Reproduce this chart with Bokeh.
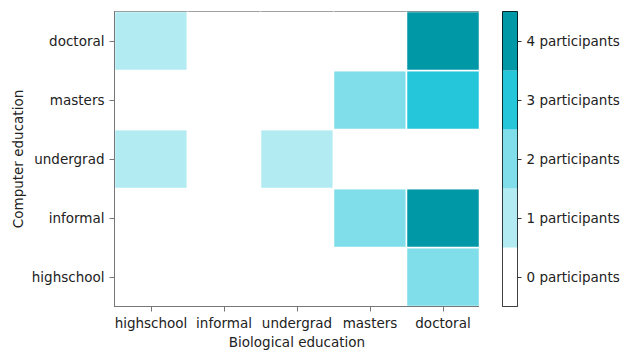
from bokeh.plotting import figure
from bokeh.models import ColumnDataSource, LinearColorMapper
from bokeh.layouts import row
from bokeh.embed import file_html
from bokeh.resources import INLINE

bio_levels = ["highschool", "informal", "undergrad", "masters", "doctoral"]
comp_levels = ["highschool", "informal", "undergrad", "masters", "doctoral"]

# counts[row = computer education][col = biological education]
counts_highschool = [0, 0, 0, 0, 2]
counts_informal = [0, 0, 0, 2, 4]
counts_undergrad = [1, 0, 1, 0, 0]
counts_masters = [0, 0, 0, 2, 3]
counts_doctoral = [1, 0, 0, 0, 4]

palette = ["#ffffff", "#b2ebf2", "#80deea", "#26c6da", "#0097a7"]
colorbar_values = [0, 1, 2, 3, 4]
colorbar_labels = ["0 participants", "1 participants", "2 participants", "3 participants", "4 participants"]

rows = {"highschool": counts_highschool, "informal": counts_informal,
        "undergrad": counts_undergrad, "masters": counts_masters,
        "doctoral": counts_doctoral}

xs, ys, vs = [], [], []
for comp in comp_levels:
    for bio, v in zip(bio_levels, rows[comp]):
        xs.append(bio)
        ys.append(comp)
        vs.append(v)

src = ColumnDataSource(dict(x=xs, y=ys, v=vs))
mapper = LinearColorMapper(palette=palette, low=-0.5, high=4.5)

FONT = "DejaVu Sans"
FS = "13.5px"
TXT = "#222222"

p = figure(x_range=bio_levels, y_range=comp_levels, output_backend="svg",
           toolbar_location=None, frame_width=365, frame_height=295,
           min_border_left=114, min_border_top=11, min_border_bottom=10,
           min_border_right=0)
p.rect(x="x", y="y", width=1, height=1, source=src,
       fill_color={"field": "v", "transform": mapper},
       line_color="white", line_width=1.5)

p.grid.visible = False
p.outline_line_color = "black"
p.outline_line_width = 1
for ax in (p.xaxis, p.yaxis):
    ax.axis_line_color = "#777777"
    ax.major_tick_line_color = "#777777"
    ax.major_tick_out = 5
    ax.major_tick_in = 0
    ax.major_label_text_font = FONT
    ax.major_label_text_font_size = FS
    ax.major_label_text_color = TXT
    ax.axis_label_text_font = FONT
    ax.axis_label_text_font_size = FS
    ax.axis_label_text_font_style = "normal"
    ax.axis_label_text_color = TXT
p.xaxis.axis_label = "Biological education"
p.yaxis.axis_label = "Computer education"
p.xaxis.major_label_standoff = 3
p.yaxis.major_label_standoff = 5
p.xaxis.axis_label_standoff = 0
p.yaxis.axis_label_standoff = 3

# colour bar as its own figure
cb_src = ColumnDataSource(dict(x=["bar"] * len(colorbar_values),
                               y=colorbar_labels,
                               v=colorbar_values))
cbf = figure(x_range=["bar"], y_range=colorbar_labels,
             output_backend="svg", toolbar_location=None,
             frame_width=15, frame_height=295,
             min_border_left=23, min_border_top=11, min_border_bottom=44,
             min_border_right=0, y_axis_location="right")
cbf.rect(x="x", y="y", width=1, height=1, source=cb_src,
         fill_color={"field": "v", "transform": mapper}, line_color=None)
cbf.grid.visible = False
cbf.xaxis.visible = False
cbf.outline_line_color = "black"
cbf.outline_line_width = 1
cbf.yaxis.axis_line_color = None
cbf.yaxis.major_tick_line_color = "#333333"
cbf.yaxis.major_tick_out = 4
cbf.yaxis.major_tick_in = 0
cbf.yaxis.major_label_text_font = FONT
cbf.yaxis.major_label_text_font_size = FS
cbf.yaxis.major_label_text_color = TXT
cbf.yaxis.major_label_standoff = 5

layout = row(p, cbf, spacing=0)
open("out.html", "w").write(file_html(layout, INLINE))
